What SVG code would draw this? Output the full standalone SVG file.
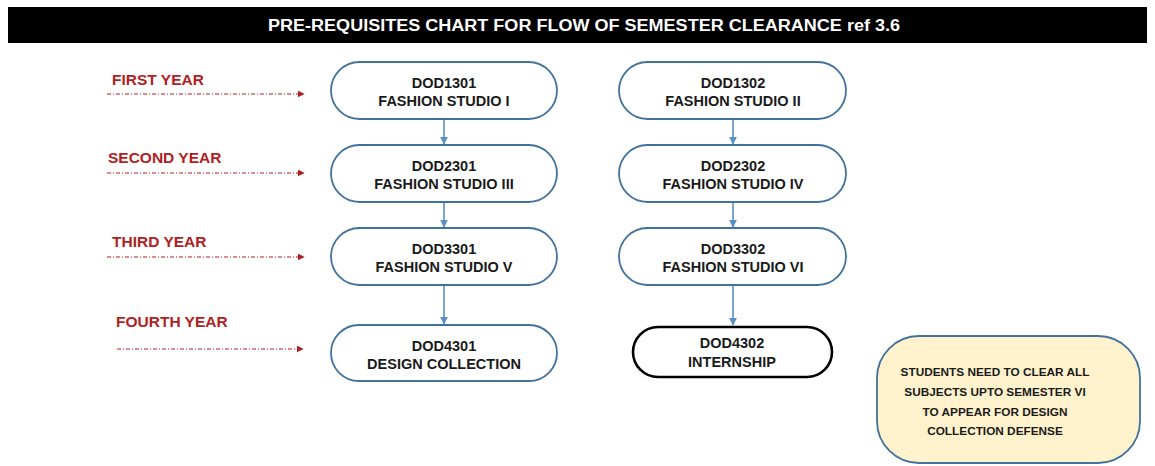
<svg xmlns="http://www.w3.org/2000/svg" width="1155" height="466" viewBox="0 0 1155 466">
<style>
  .node { fill: #ffffff; stroke: #41719c; stroke-width: 1.8; }
  .final { fill: #ffffff; stroke: #000000; stroke-width: 2.6; }
  .note { fill: #fff2cc; stroke: #41719c; stroke-width: 1.8; }
  .nt { font-family: "Liberation Sans", Arial, sans-serif; font-weight: bold; font-size: 14.5px; fill: #1a1a1a; text-anchor: middle; }
  .notet { font-family: "Liberation Sans", Arial, sans-serif; font-weight: bold; font-size: 11.8px; fill: #1a1a1a; text-anchor: middle; }
  .year { font-family: "Liberation Sans", Arial, sans-serif; font-weight: bold; font-size: 15.5px; fill: #b01e23; }
  .yline { stroke: #b01e23; stroke-width: 1; fill: none; stroke-dasharray: 4 2 1 2; }
  .edge { stroke: #5b8fc7; stroke-width: 1.6; fill: none; }
  .title { font-family: "Liberation Sans", Arial, sans-serif; font-weight: bold; font-size: 16px; fill: #ffffff; text-anchor: middle; }
</style>
<defs>
  <marker id="ab" viewBox="0 0 10 10" refX="9" refY="5" markerWidth="5" markerHeight="5" orient="auto" markerUnits="strokeWidth">
    <path d="M0,0 L10,5 L0,10 z" fill="#5b8fc7"/>
  </marker>
  <marker id="ar" viewBox="0 0 10 10" refX="9" refY="5" markerWidth="7" markerHeight="7" orient="auto" markerUnits="strokeWidth">
    <path d="M0,0 L10,5 L0,10 z" fill="#b01e23"/>
  </marker>
</defs>
<rect width="1155" height="466" fill="#ffffff"/>

<g id="title">
  <rect x="8" y="7" width="1139" height="36" fill="#000000"/>
  <text class="title" x="584" y="31" textLength="632" lengthAdjust="spacingAndGlyphs">PRE-REQUISITES CHART FOR FLOW OF SEMESTER CLEARANCE ref 3.6</text>
</g>

<g id="year-labels">
  <g id="first-year">
    <text class="year" x="112" y="85">FIRST YEAR</text>
    <line class="yline" x1="107" y1="94" x2="304" y2="94" marker-end="url(#ar)"/>
  </g>
  <g id="second-year">
    <text class="year" x="108" y="163">SECOND YEAR</text>
    <line class="yline" x1="107" y1="173" x2="304" y2="173" marker-end="url(#ar)"/>
  </g>
  <g id="third-year">
    <text class="year" x="112" y="247">THIRD YEAR</text>
    <line class="yline" x1="107" y1="257" x2="304" y2="257" marker-end="url(#ar)"/>
  </g>
  <g id="fourth-year">
    <text class="year" x="116" y="327">FOURTH YEAR</text>
    <line class="yline" x1="117" y1="349" x2="303" y2="349" marker-end="url(#ar)"/>
  </g>
</g>

<g id="connectors">
  <line class="edge" x1="444" y1="119" x2="444" y2="144" marker-end="url(#ab)"/>
  <line class="edge" x1="444" y1="202" x2="444" y2="227" marker-end="url(#ab)"/>
  <line class="edge" x1="444" y1="285" x2="444" y2="324" marker-end="url(#ab)"/>
  <line class="edge" x1="733" y1="119" x2="733" y2="144" marker-end="url(#ab)"/>
  <line class="edge" x1="733" y1="202" x2="733" y2="227" marker-end="url(#ab)"/>
  <line class="edge" x1="733" y1="285" x2="733" y2="325" marker-end="url(#ab)"/>
</g>

<g id="dod1301">
  <rect class="node" x="331" y="62" width="226" height="57" rx="28.5"/>
  <text class="nt" x="444" y="88">DOD1301</text>
  <text class="nt" x="444" y="106">FASHION STUDIO I</text>
</g>
<g id="dod2301">
  <rect class="node" x="331" y="145" width="226" height="57" rx="28.5"/>
  <text class="nt" x="444" y="171">DOD2301</text>
  <text class="nt" x="444" y="189">FASHION STUDIO III</text>
</g>
<g id="dod3301">
  <rect class="node" x="331" y="228" width="226" height="57" rx="28.5"/>
  <text class="nt" x="444" y="254">DOD3301</text>
  <text class="nt" x="444" y="272">FASHION STUDIO V</text>
</g>
<g id="dod4301">
  <rect class="node" x="331" y="325" width="226" height="56" rx="28"/>
  <text class="nt" x="444" y="351">DOD4301</text>
  <text class="nt" x="444" y="369">DESIGN COLLECTION</text>
</g>

<g id="dod1302">
  <rect class="node" x="619" y="62" width="227" height="57" rx="28.5"/>
  <text class="nt" x="733" y="88">DOD1302</text>
  <text class="nt" x="733" y="106">FASHION STUDIO II</text>
</g>
<g id="dod2302">
  <rect class="node" x="619" y="145" width="227" height="57" rx="28.5"/>
  <text class="nt" x="733" y="171">DOD2302</text>
  <text class="nt" x="733" y="189">FASHION STUDIO IV</text>
</g>
<g id="dod3302">
  <rect class="node" x="619" y="228" width="227" height="57" rx="28.5"/>
  <text class="nt" x="733" y="254">DOD3302</text>
  <text class="nt" x="733" y="272">FASHION STUDIO VI</text>
</g>
<g id="dod4302">
  <rect class="final" x="633" y="327" width="199" height="50" rx="25"/>
  <text class="nt" x="732" y="348">DOD4302</text>
  <text class="nt" x="732" y="367">INTERNSHIP</text>
</g>

<g id="note">
  <rect class="note" x="877" y="336" width="263" height="127" rx="42"/>
  <text class="notet" x="995" y="376">STUDENTS NEED TO CLEAR ALL</text>
  <text class="notet" x="995" y="396">SUBJECTS UPTO SEMESTER VI</text>
  <text class="notet" x="995" y="416">TO APPEAR FOR DESIGN</text>
  <text class="notet" x="995" y="435">COLLECTION DEFENSE</text>
</g>
</svg>
